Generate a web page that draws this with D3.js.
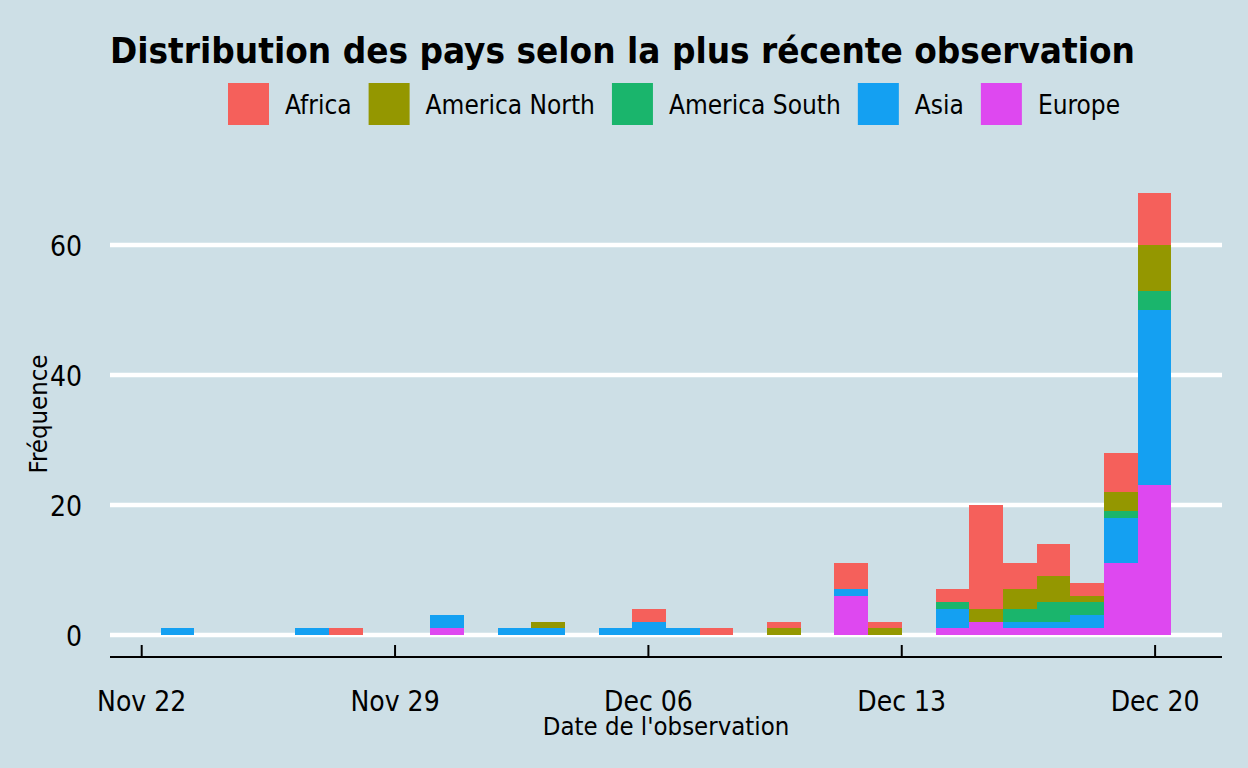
<!DOCTYPE html>
<html>
<head>
<meta charset="utf-8">
<script src="https://cdn.jsdelivr.net/npm/d3@7/dist/d3.min.js"></script>
<style>
  html, body { margin: 0; padding: 0; background: #cddfe6; }
  svg { display: block; }
  text { font-family: "DejaVu Sans Condensed", "DejaVu Sans", sans-serif; font-stretch: condensed; fill: #000; }
</style>
</head>
<body>
<svg id="chart" width="1248" height="768"></svg>
<script>
// ---- data (counts per histogram bin, 30 bins from Nov 23 to Dec 20) ----
const firstBinCenter = "2020-11-23";
const lastBinCenter = "2020-12-20";
const continents = ["Africa", "America North", "America South", "Asia", "Europe"];
const colors = ["#f5605b", "#949700", "#1ab56c", "#14a0f2", "#de48f0"];
const africa       = [0,0,0,0,0,1,0,0,0,0,0,0,0,0,2,0,1,0,1,0,4,1,0,2,16,4,5,2,6,8];
const americaNorth = [0,0,0,0,0,0,0,0,0,0,0,1,0,0,0,0,0,0,1,0,0,1,0,0,2,3,4,1,3,7];
const americaSouth = [0,0,0,0,0,0,0,0,0,0,0,0,0,0,0,0,0,0,0,0,0,0,0,1,0,2,3,2,1,3];
const asia         = [1,0,0,0,1,0,0,0,2,0,1,1,0,1,2,1,0,0,0,0,1,0,0,3,0,1,1,2,7,27];
const europe       = [0,0,0,0,0,0,0,0,1,0,0,0,0,0,0,0,0,0,0,0,6,0,0,1,2,1,1,1,11,23];
const xTickLabels = ["2020-11-22", "2020-11-29", "2020-12-06", "2020-12-13", "2020-12-20"];
const yTicks = [0, 20, 40, 60];
const titleText = "Distribution des pays selon la plus récente observation";
const xTitle = "Date de l'observation";
const yTitle = "Fréquence";

(function () {
// ---- build bins ----
const parse = d3.utcParse("%Y-%m-%d");
const c0 = parse(firstBinCenter), c1 = parse(lastBinCenter);
const nBins = africa.length;
const w = (c1 - c0) / (nBins - 1);
const series = {"Africa": africa, "America North": americaNorth, "America South": americaSouth, "Asia": asia, "Europe": europe};
const rows = d3.range(nBins).map(i => {
  const r = { x0: new Date(+c0 + (i - 0.5) * w), x1: new Date(+c0 + (i + 0.5) * w) };
  continents.forEach(k => r[k] = series[k][i]);
  return r;
});
const color = d3.scaleOrdinal().domain(continents).range(colors);

// ---- layout ----
const svg = d3.select("#chart");
const pLeft = 110, pRight = 1222, pTop = 171, pBottom = 657;

const xmin = rows[0].x0, xmax = rows[nBins - 1].x1;
const xpad = (xmax - xmin) * 0.05;
const x = d3.scaleUtc().domain([new Date(+xmin - xpad), new Date(+xmax + xpad)]).range([pLeft, pRight]);

const stackKeys = continents.slice().reverse(); // Europe at bottom, Africa on top
const stacked = d3.stack().keys(stackKeys)(rows);
const ymaxv = d3.max(rows, r => continents.reduce((s, k) => s + r[k], 0));
const ypad = ymaxv * 0.05;
const y = d3.scaleLinear().domain([-ypad, ymaxv + ypad]).range([pBottom, pTop]);

// gridlines
svg.append("g").selectAll("line").data(yTicks).join("line")
  .attr("x1", pLeft).attr("x2", pRight)
  .attr("y1", d => y(d)).attr("y2", d => y(d))
  .attr("stroke", "#ffffff").attr("stroke-width", 4.5);

// bars
svg.append("g").selectAll("g").data(stacked).join("g")
  .attr("fill", d => color(d.key))
  .selectAll("rect").data(d => d.filter(s => s[1] > s[0])).join("rect")
  .attr("x", d => x(d.data.x0))
  .attr("width", d => x(d.data.x1) - x(d.data.x0))
  .attr("y", d => y(d[1]))
  .attr("height", d => y(d[0]) - y(d[1]))
  .attr("shape-rendering", "crispEdges");

// x axis
const xAxis = d3.axisBottom(x)
  .tickValues(xTickLabels.map(parse))
  .tickFormat(d3.utcFormat("%b %d"))
  .tickSizeInner(-12).tickSizeOuter(0).tickPadding(0);
const gx = svg.append("g").attr("transform", `translate(0,${pBottom})`).call(xAxis);
gx.select(".domain").attr("stroke", "#000").attr("stroke-width", 2)
  .attr("d", `M${pLeft},0H${pRight}`);
gx.selectAll(".tick line").attr("stroke", "#000").attr("stroke-width", 2);
gx.selectAll(".tick text").attr("y", 54).attr("dy", null)
  .style("font-size", "28px").attr("fill", "#000");

// y axis labels
const yAxis = d3.axisLeft(y).tickValues(yTicks).tickSize(0).tickPadding(0);
const gy = svg.append("g").attr("transform", `translate(82,0)`).call(yAxis);
gy.select(".domain").remove();
gy.selectAll(".tick text").attr("x", 0).attr("dy", "0.36em")
  .style("font-size", "28px").attr("fill", "#000");

// axis titles
svg.append("text").attr("x", (pLeft + pRight) / 2).attr("y", 735)
  .attr("text-anchor", "middle").style("font-size", "25.5px").text(xTitle);
svg.append("text").attr("transform", "translate(47,414) rotate(-90)")
  .attr("text-anchor", "middle").style("font-size", "25.5px").text(yTitle);

// title
const t = svg.append("text").attr("x", 110).attr("y", 63)
  .style("font-size", "36px").style("font-weight", "bold").text(titleText);
const tl = t.node().getComputedTextLength();
if (Math.abs(tl - 1025) > 3) t.attr("textLength", 1025).attr("lengthAdjust", "spacingAndGlyphs");

// legend
const lg = svg.append("g");
let lx = 228;
continents.forEach(k => {
  lg.append("rect").attr("x", lx).attr("y", 83).attr("width", 41).attr("height", 42).attr("fill", color(k));
  const tx = lg.append("text").attr("x", lx + 57).attr("y", 113.5).style("font-size", "26px").text(k);
  lx = lx + 57 + tx.node().getComputedTextLength() + 17;
});
})();
</script>
</body>
</html>
